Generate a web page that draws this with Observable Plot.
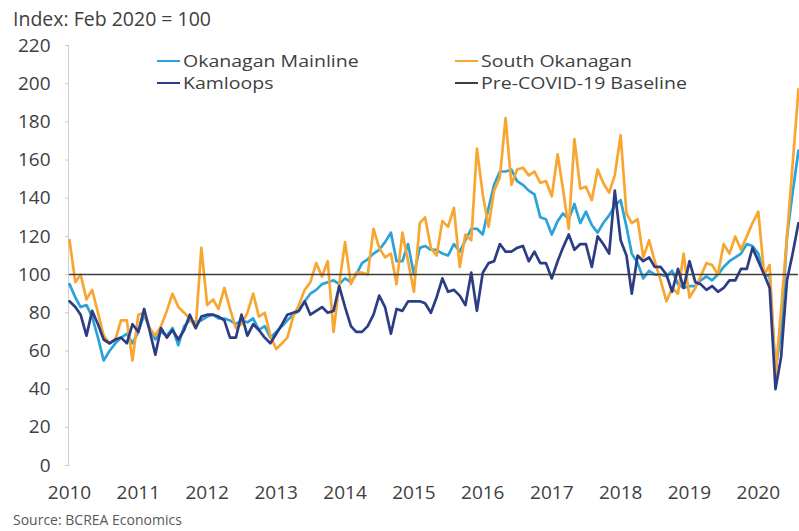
<!DOCTYPE html>
<html><head><meta charset="utf-8">
<script src="https://cdn.jsdelivr.net/npm/d3@7"></script>
<script src="https://cdn.jsdelivr.net/npm/@observablehq/plot@0.6"></script>
<style>
body{margin:0;background:#fff;font-family:"Open Sans",sans-serif;color:#404040;}
#wrap{position:relative;width:799px;height:531px;overflow:hidden;background:#fff;}
#title{position:absolute;left:13px;top:6px;font-size:19.5px;line-height:26px;white-space:nowrap;}
#chart{position:absolute;left:0;top:32px;}
#source{position:absolute;left:13px;top:511px;font-size:14px;line-height:18px;color:#595959;white-space:nowrap;}
.legend{position:absolute;height:22px;display:flex;align-items:center;white-space:nowrap;}
.legend i{display:inline-block;width:23px;margin-right:3px;}
.legend span{display:inline-block;font-size:16px;line-height:21px;transform:scaleX(1.22);transform-origin:0 50%;}
</style></head>
<body><div id="wrap">
<div id="title"></div>
<div id="chart"></div>
<div id="legend"></div>
<div id="source"></div>
</div>
<script>
const titleText = "Index: Feb 2020 = 100";
const sourceText = "Source: BCREA Economics";
const seriesNames = ["Okanagan Mainline", "South Okanagan", "Kamloops"];
const baselineName = "Pre-COVID-19 Baseline";
const baselineValue = 100;
const startMonth = "2010-01";

const okanaganMainline = [
 95, 88, 83, 84, 78, 67, 55, 60, 64, 67, 69, 64,
 70, 79, 72, 66, 70, 68, 72, 63, 73, 76, 75, 76,
 78, 79, 77, 77, 76, 74, 76, 75, 77, 71, 73, 67,
 70, 73, 76, 79, 81, 86, 90, 92, 95, 96, 97, 95,
 98, 96, 100, 106, 108, 111, 113, 117, 122, 107, 107, 116,
 100, 114, 115, 113, 113, 111, 110, 116, 112, 118, 124, 124,
 121, 135, 147, 154, 154, 155, 149, 147, 144, 142, 130, 129,
 121, 128, 132, 129, 137, 127, 133, 126, 122, 127, 131, 136,
 139, 125, 111, 106, 98, 102, 100, 100, 99, 102, 95, 93,
 94, 94, 97, 99, 97, 100, 104, 107, 109, 111, 116, 115,
 111, 100, 99, 50, 70, 120, 143, 165
];
const southOkanagan = [
 118, 96, 100, 87, 92, 80, 68, 64, 66, 76, 76, 55,
 79, 80, 72, 68, 73, 81, 90, 83, 80, 77, 72, 114,
 84, 87, 82, 93, 82, 72, 74, 80, 90, 78, 80, 68,
 61, 64, 67, 78, 84, 92, 96, 106, 99, 107, 70, 95,
 117, 95, 101, 101, 100, 124, 114, 109, 111, 95, 122, 107,
 91, 127, 130, 114, 110, 128, 125, 135, 104, 121, 118, 166,
 142, 125, 144, 151, 182, 147, 155, 156, 152, 154, 148, 149,
 141, 163, 145, 124, 171, 145, 146, 139, 155, 148, 143, 152,
 173, 132, 127, 129, 109, 118, 107, 97, 86, 93, 90, 111,
 88, 93, 99, 106, 105, 100, 116, 111, 120, 113, 120, 127,
 133, 100, 105, 47, 82, 120, 158, 197
];
const kamloops = [
 86, 83, 79, 68, 81, 74, 66, 64, 66, 67, 64, 74,
 70, 82, 71, 58, 72, 67, 71, 66, 71, 79, 72, 78,
 79, 79, 78, 76, 67, 67, 79, 68, 74, 71, 67, 64,
 69, 74, 79, 80, 81, 86, 79, 81, 83, 80, 81, 94,
 83, 73, 70, 70, 73, 79, 89, 83, 69, 82, 81, 86,
 86, 86, 85, 80, 88, 98, 91, 92, 89, 84, 101, 81,
 101, 106, 107, 116, 112, 112, 114, 115, 107, 112, 106, 106,
 98, 107, 114, 121, 113, 116, 116, 104, 120, 116, 111, 144,
 118, 110, 90, 110, 107, 109, 104, 104, 100, 91, 103, 93,
 107, 96, 95, 92, 94, 91, 93, 97, 97, 103, 103, 114,
 107, 100, 93, 40, 57, 97, 111, 127
];
const yTicks = [0, 20, 40, 60, 80, 100, 120, 140, 160, 180, 200, 220];
const yearLabels = ["2010","2011","2012","2013","2014","2015","2016","2017","2018","2019","2020"];
const colors = {"Okanagan Mainline":"#2ba3da","South Okanagan":"#f9a631","Kamloops":"#2c3d86"};
const baselineColor = "#3d3d3d";

const parseMonth = d3.utcParse("%Y-%m");
const start = parseMonth(startMonth);
const seriesValues = [okanaganMainline, southOkanagan, kamloops];
const rows = [];
seriesNames.forEach((name, k) => {
  seriesValues[k].forEach((v, i) => rows.push({series: name, date: d3.utcMonth.offset(start, i), value: v}));
});
const lastDate = d3.utcMonth.offset(start, okanaganMainline.length - 1);
const yearDates = yearLabels.map(y => d3.utcParse("%Y")(y));

document.getElementById("title").textContent = titleText;
document.getElementById("source").textContent = sourceText;

const chart = Plot.plot({
  width: 799, height: 478,
  marginTop: 13, marginBottom: 45, marginLeft: 69, marginRight: 1,
  style: {fontFamily: "'Open Sans', sans-serif", fontSize: "19px", color: "#404040", background: "transparent", overflow: "visible"},
  x: {type: "utc", domain: [start, lastDate]},
  y: {domain: [0, 220]},
  marks: [
    Plot.ruleX([start], {stroke: "#d0d0d0", dx: -1}),
    Plot.axisY({ticks: yTicks, tickSize: 4, tickPadding: 15, stroke: "#c8c8c8", fill: "#404040", label: null, fontSize: 19}),
    Plot.axisX({ticks: yearDates, tickFormat: d3.utcFormat("%Y"), tickSize: 0, tickPadding: 20, fill: "#404040", label: null, fontSize: 19}),
    ...seriesNames.map(name => Plot.line(rows.filter(r => r.series === name), {
      x: "date", y: "value", stroke: colors[name], strokeWidth: 2.7, strokeLinejoin: "round", strokeLinecap: "round"
    })),
    Plot.ruleY([baselineValue], {stroke: baselineColor, strokeWidth: 1.5})
  ]
});
document.getElementById("chart").appendChild(chart);

const legendItems = [
  {name: seriesNames[0], color: colors[seriesNames[0]], left: 157, top: 50, w: 2.7},
  {name: seriesNames[1], color: colors[seriesNames[1]], left: 455, top: 50, w: 2.7},
  {name: seriesNames[2], color: colors[seriesNames[2]], left: 157, top: 72, w: 2.7},
  {name: baselineName, color: baselineColor, left: 455, top: 72, w: 1.5}
];
const lg = document.getElementById("legend");
legendItems.forEach(it => {
  const d = document.createElement("div");
  d.className = "legend";
  d.style.left = it.left + "px"; d.style.top = it.top + "px";
  const sw = document.createElement("i");
  sw.style.background = it.color; sw.style.height = it.w + "px";
  d.appendChild(sw);
  const t = document.createElement("span");
  t.textContent = it.name;
  d.appendChild(t);
  lg.appendChild(d);
});
</script>
</body></html>
